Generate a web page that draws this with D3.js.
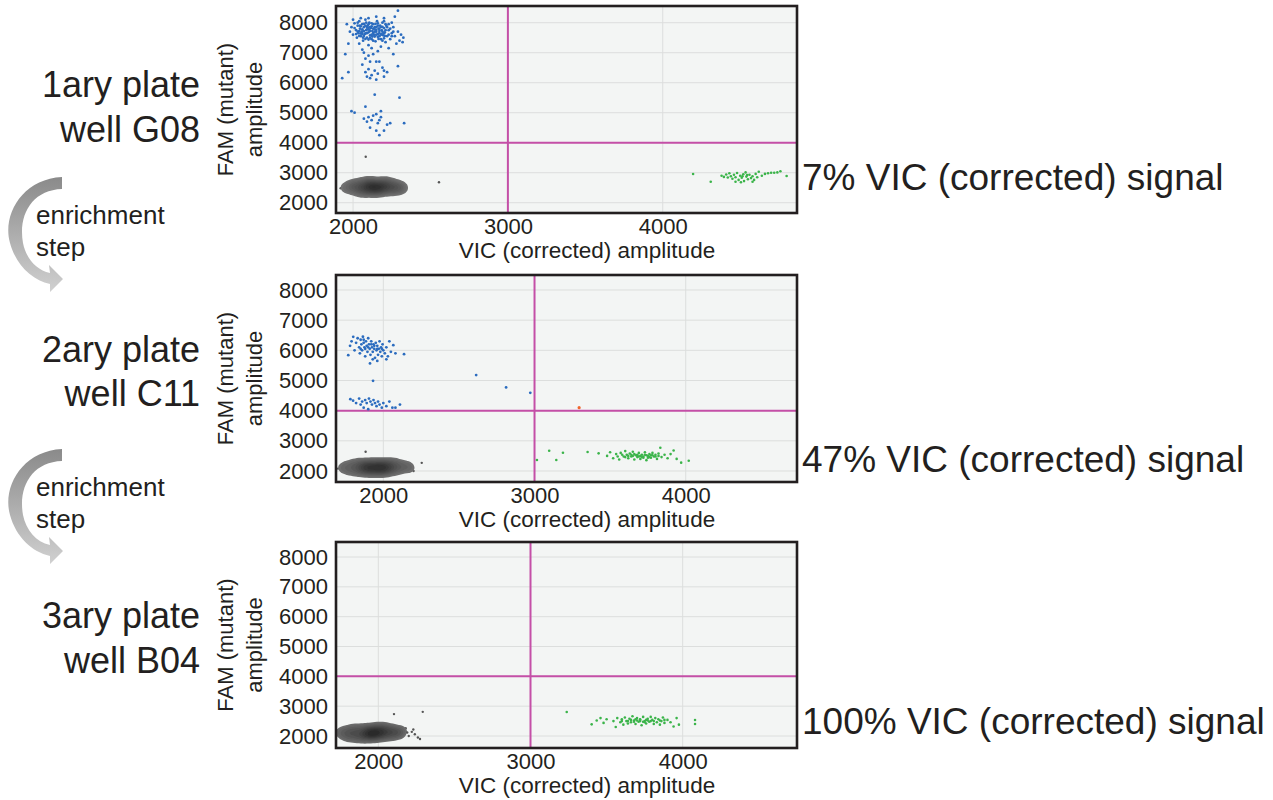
<!DOCTYPE html>
<html>
<head>
<meta charset="utf-8">
<script src="https://cdn.jsdelivr.net/npm/d3@7"></script>
<style>
  body { margin: 0; background: #fff; }
  svg { display: block; font-family: "Liberation Sans", Arial, Helvetica, sans-serif; }
  text { fill: #231f20; }
</style>
</head>
<body>
<svg width="1273" height="800"></svg>
<script>
// ---- data (VIC amplitude, FAM amplitude) ----
const blue1 = [[1960,7950],[1980,7700],[1990,7850],[2000,7600],[2010,7980],[2020,7750],[2025,7500],[2030,7900],[2035,7650],[2040,8050],[2045,7800],[2050,7550],[2055,7700],[2060,7950],[2065,7400],[2070,7850],[2075,7620],[2080,8100],[2085,7750],[2090,7500],[2095,7900],[2100,7680],[2105,8000],[2110,7580],[2115,7820],[2120,7450],[2125,7720],[2130,7950],[2135,7600],[2140,7850],[2145,7380],[2150,7700],[2155,8050],[2160,7530],[2165,7800],[2170,7650],[2175,7900],[2180,7450],[2185,7750],[2190,8000],[2195,7580],[2200,7820],[2205,7680],[2210,7350],[2215,7900],[2220,7550],[2230,7750],[2240,7450],[2250,7650],[2260,7850],[2270,7550],[2280,7300],[2290,7700],[2300,7400],[2310,7600],[2320,7350],[2325,7500],[2250,8000],[2270,8200],[2290,8400],[2200,8150],[2150,8200],[2100,8150],[2050,8150],[2000,8100],[1970,7300],[2040,7300],[2100,7250],[2180,7200],[2230,7150],[2060,7100],[2120,7150],
  [2070,7720],[2090,7780],[2110,7720],[2130,7660],[2150,7760],[2170,7720],[2190,7700],[2080,7640],[2100,7820],[2140,7780],[2160,7620],[2060,7780],[2120,7880],[2180,7860],[2140,7540],[2100,7440],[2200,7480],[2060,7620],[2040,7720],
  [2010,7820],[2020,7620],[2030,8000],[2040,7560],[2050,7880],[2060,7700],[2070,7560],[2080,7900],[2090,7650],[2100,7950],[2110,7850],[2120,7600],[2130,7800],[2140,7700],[2150,7600],[2160,7900],[2170,7800],[2180,7600],[2190,7860],[2200,7650],[2210,7750],[2220,7850],[2230,7600],[2240,7800],[2250,7550],[2260,7700],[2050,7640],[2070,7960],[2090,7860],[2110,7500],[2130,7400],[2150,7850],[2170,7550],[2190,7400],[2210,7950],[2230,7950],[2080,7460],[2120,7980],[2160,7980],[2200,8050],[2030,7700],[2045,7900],[2065,7500],[2085,8000],[2105,7760],[2125,7540],[2145,7960],[2165,7460],[2185,7620],[2205,7560],
  [2070,7000],[2100,6900],[2130,6950],[2160,7050],[2080,6800],[2150,6700],[2170,6700],[2110,6700],[2260,6950],[2290,6550],[2060,6600],[2100,6450],[2140,6400],[2190,6500],[2200,6400],[2220,6350],[2080,6350],[2120,6250],[2160,6300],[2110,6150],[2200,6200],[2150,6100],[2090,6200],
  [1950,6950],[1970,6350],[1930,6150],[2300,5500],[2140,5600],
  [1990,5050],[2010,5000],[2080,5200],[2100,4850],[2130,4900],[2150,4950],[2170,4750],[2120,4750],[2160,4650],[2090,4700],[2180,4850],[2180,5050],[2110,4500],[2150,4400],[2220,4600],[2240,4650],[2330,4650],[2170,4250],[2200,4400],[2070,4800]]
const green1 = [[4196,2957],[4310,2700],[4380,2900],[4395,2860],[4410,2940],[4430,2980],[4440,2880],[4450,2800],[4460,2930],[4470,2850],[4480,2990],[4490,2760],[4500,2900],[4505,2680],[4510,2830],[4520,2950],[4525,2720],[4535,3010],[4540,2870],[4550,2780],[4560,2930],[4570,2820],[4580,2880],[4590,2760],[4600,2960],[4610,2850],[4620,3030],[4640,2900],[4660,2960],[4680,2980],[4700,3000],[4720,3000],[4740,3010],[4760,3050],[4800,2890],[4470,2700],[4420,2840],[4545,2920],[4515,2880],[4580,2700]]
const gray1 = [[1920,2480],[1940,2560],[1960,2440],[1980,2620],[1990,2500],[2000,2380],[2010,2560],[2020,2680],[2030,2460],[2040,2600],[2050,2340],[2060,2520],[2070,2700],[2080,2420],[2090,2580],[2100,2480],[2110,2660],[2120,2360],[2130,2540],[2140,2460],[2150,2620],[2160,2300],[2170,2520],[2180,2720],[2190,2420],[2200,2580],[2210,2480],[2220,2660],[2230,2380],[2240,2540],[2250,2460],[2260,2620],[2270,2400],[2280,2540],[2290,2480],[2300,2580],[2310,2440],[2330,2520],[2340,2480],[2100,2780],[2230,2760],[2060,2300],[2150,2540],[2120,2500],[2170,2470],[2080,2520],[2200,2510],[2110,2560],[2140,2420],[2180,2600]]
const grayOut1 = [[2082,3530],[2555,2680]]

const blue2 = [[1768,5840],[1801,6447],[1780,6150],[1790,6300],[1810,6000],[1820,6250],[1830,6400],[1840,6100],[1845,5900],[1850,6350],[1855,6200],[1860,6000],[1865,6450],[1870,6250],[1875,6100],[1880,5800],[1885,6300],[1890,6150],[1895,5950],[1900,6400],[1905,6200],[1910,6050],[1915,5850],[1912,5566],[1920,6300],[1925,6100],[1930,5950],[1935,6200],[1940,6050],[1945,5750],[1950,6250],[1955,6000],[1960,6150],[1965,5850],[1970,6050],[1975,6300],[1980,5950],[1985,6100],[1990,5800],[1995,6200],[2000,6000],[2010,5900],[2020,6100],[2030,5800],[2040,6300],[2050,5950],[2066,6172],[2080,5900],[2137,5874],[1960,5650],[1930,5700],[2020,5700],[1880,6050],[1900,6100],[1920,6200],[1940,6150],[1870,6350],[1850,6050],[1960,6050],[1990,6050],
  [1782,4380],[1800,4330],[1820,4250],[1840,4400],[1850,4200],[1860,4300],[1870,4100],[1880,4350],[1890,4250],[1900,4050],[1905,4400],[1915,4300],[1925,4200],[1935,4350],[1945,4250],[1955,4150],[1965,4300],[1975,4200],[1990,4100],[2000,4250],[2020,4150],[2040,4300],[2060,4100],[2080,4100],[2110,4200],[1932,4990],
  [2614,5180],[2812,4770],[2972,4590]]
const orange2 = [[3295,4100]]
const green2 = [[3016,2364],[3097,2672],[3144,2364],[3188,2606],[3351,2628],[3424,2585],[3480,2500],[3500,2620],[3520,2420],[3540,2560],[3560,2380],[3570,2600],[3590,2480],[3600,2660],[3610,2540],[3620,2420],[3630,2580],[3640,2480],[3650,2640],[3660,2380],[3670,2520],[3680,2460],[3690,2600],[3700,2400],[3710,2540],[3720,2480],[3730,2620],[3740,2360],[3750,2500],[3760,2560],[3770,2440],[3780,2600],[3790,2480],[3800,2540],[3810,2400],[3820,2580],[3832,2772],[3840,2460],[3860,2540],[3880,2420],[3900,2560],[3920,2680],[3940,2400],[3970,2276],[4020,2341],[3660,2560],[3700,2500],[3720,2440],[3680,2540],[3740,2520],[3640,2540],[3760,2460],[3600,2460],[3780,2520],
  [3620,2500],[3680,2500],[3710,2460],[3730,2540],[3750,2440],[3770,2520],[3690,2480],[3650,2500],[3800,2480],[3820,2500],[3580,2540],[3550,2480]]
const gray2 = [[1700,2080],[1720,2200],[1740,2000],[1760,2120],[1770,2280],[1780,1940],[1800,2060],[1810,2200],[1820,2340],[1830,1900],[1840,2140],[1850,2020],[1860,2260],[1870,2100],[1880,1960],[1890,2200],[1900,2080],[1910,2320],[1920,1880],[1930,2160],[1940,2040],[1950,2240],[1960,1960],[1970,2120],[1980,2300],[1990,2040],[2000,2180],[2010,1900],[2020,2100],[2030,2260],[2040,2000],[2050,2160],[2060,2380],[2070,2060],[2080,2220],[2090,1960],[2100,2140],[2120,2280],[2130,2040],[2150,2180],[2170,2100],[2190,2200],[2200,2000],[1930,2090],[1960,2110],[1900,2140],[2000,2080],[1980,2140],[1880,2110],[2030,2130]]
const grayOut2 = [[2254,2270],[1883,2640]]

const green3 = [[3238,2803],[3402,2390],[3435,2520],[3460,2600],[3480,2440],[3500,2560],[3545,2500],[3560,2300],[3570,2600],[3590,2460],[3600,2560],[3610,2380],[3620,2620],[3630,2500],[3640,2420],[3650,2580],[3660,2460],[3670,2660],[3680,2520],[3690,2400],[3700,2600],[3710,2480],[3720,2560],[3730,2360],[3740,2640],[3750,2500],[3760,2420],[3770,2580],[3780,2480],[3790,2640],[3800,2540],[3810,2400],[3820,2600],[3830,2460],[3840,2560],[3850,2380],[3860,2500],[3870,2620],[3880,2440],[3900,2540],[3920,2460],[3940,2320],[3960,2600],[3975,2380],[4081,2535],[4081,2400],[3720,2500],[3760,2540],[3700,2520],[3740,2480],[3660,2540],[3790,2500],
  [3680,2480],[3720,2540],[3750,2460],[3770,2520],[3690,2560],[3810,2500],[3640,2500],[3600,2500],[3850,2520],[3880,2540]]
const gray3 = [[1727,2150],[1740,2050],[1760,2200],[1775,1950],[1790,2100],[1800,2250],[1810,1880],[1820,2020],[1830,2160],[1840,2320],[1850,1960],[1860,2080],[1870,2220],[1880,1850],[1890,2000],[1900,2140],[1910,2380],[1920,1920],[1930,2060],[1940,2200],[1950,1980],[1960,2120],[1970,2280],[1980,1900],[1990,2040],[2000,2180],[2010,2420],[2020,1960],[2030,2100],[2040,2240],[2050,2020],[2060,2160],[2070,2320],[2080,1940],[2090,2080],[2100,2220],[2120,2060],[2140,2180],[2160,2100],[2180,2260],[1960,2080],[1920,2130],[2000,2100],[1990,2150],[1940,2090],[2030,2160],[2110,2140],[2150,2040]]
const grayOut3 = [[2103,2735],[2292,2810],[2200,2000],[2220,2140],[2240,2060],[2260,1950],[2274,1900],[2230,2220],[2190,2120]]

const yTicks = [2000, 3000, 4000, 5000, 6000, 7000, 8000]
const xTicks = [2000, 3000, 4000]
const vicThreshold = 3000
const famThreshold = 4000
const plateLabels = [["1ary plate", "well G08"], ["2ary plate", "well C11"], ["3ary plate", "well B04"]]
const signalLabels = ["7% VIC (corrected) signal", "47% VIC (corrected) signal", "100% VIC (corrected) signal"]

const panels = [
  { top: 6,   bottom: 213, xd: [1890, 4867], yd: [1657, 8557], gray: gray1, out: grayOut1, blue: blue1, green: green1, orange: [] },
  { top: 275, bottom: 482, xd: [1687, 4736], yd: [1635, 8497], gray: gray2, out: grayOut2, blue: blue2, green: green2, orange: orange2 },
  { top: 542, bottom: 748, xd: [1722, 4751], yd: [1598, 8503], gray: gray3, out: grayOut3, blue: [],    green: green3, orange: [] }
]
const labelY = [[97, 142], [362, 406], [628, 673]]
const signalY = [190, 472, 734]

const svg = d3.select('svg')
const left = 336, right = 797
const defs = svg.append('defs')

const ag = defs.append('linearGradient').attr('id', 'arrowGrad').attr('gradientUnits', 'userSpaceOnUse')
  .attr('x1', 0).attr('y1', 177).attr('x2', 0).attr('y2', 292)
ag.append('stop').attr('offset', '0%').attr('stop-color', '#8a8a8a')
ag.append('stop').attr('offset', '100%').attr('stop-color', '#d0d0d0')

panels.forEach((p, i) => {
  const x = d3.scaleLinear().domain(p.xd).range([left, right])
  const y = d3.scaleLinear().domain(p.yd).range([p.bottom, p.top])
  const g = svg.append('g')

  defs.append('clipPath').attr('id', 'clip' + i)
    .append('rect').attr('x', left).attr('y', p.top).attr('width', right - left).attr('height', p.bottom - p.top)

  g.append('rect').attr('x', left).attr('y', p.top).attr('width', right - left).attr('height', p.bottom - p.top)
    .attr('fill', '#f3f5f4')

  // grid
  g.append('g').selectAll('line').data(yTicks).join('line')
    .attr('x1', left).attr('x2', right).attr('y1', d => y(d)).attr('y2', d => y(d))
    .attr('stroke', '#dcdedd').attr('stroke-width', 1)
  g.append('g').selectAll('line').data(xTicks).join('line')
    .attr('y1', p.top).attr('y2', p.bottom).attr('x1', d => x(d)).attr('x2', d => x(d))
    .attr('stroke', '#dcdedd').attr('stroke-width', 1)

  // thresholds
  g.append('line').attr('x1', left).attr('x2', right).attr('y1', y(famThreshold)).attr('y2', y(famThreshold))
    .attr('stroke', '#c44fa7').attr('stroke-width', 2)
  g.append('line').attr('y1', p.top).attr('y2', p.bottom).attr('x1', x(vicThreshold)).attr('x2', x(vicThreshold))
    .attr('stroke', '#c44fa7').attr('stroke-width', 2)

  const vis = g.append('g').attr('clip-path', `url(#clip${i})`)

  const dots = (data, color, r) => vis.append('g').selectAll('circle').data(data).join('circle')
    .attr('cx', d => x(d[0])).attr('cy', d => y(d[1])).attr('r', r).attr('fill', color)

  // dense negative droplet cloud: speckles underneath, density shading on top
  dots(p.gray, '#5c5c5c', 1.2)
  const contours = d3.contourDensity()
    .x(d => x(d[0])).y(d => y(d[1]))
    .size([1273, 800]).cellSize(2).bandwidth(4.5).thresholds(14)(p.gray)
  const maxV = d3.max(contours, c => c.value)
  const shade = d3.scaleLinear().domain([maxV * 0.2, maxV]).range(['#727272', '#2a2a2a']).clamp(true)
  vis.append('g').selectAll('path').data(contours.filter(c => c.value >= maxV * 0.2)).join('path')
    .attr('d', d3.geoPath()).attr('fill', d => shade(d.value))

  dots(p.out, '#555', 1.2)
  dots(p.blue, '#2b6cbf', 1.4)
  dots(p.green, '#3bb44a', 1.3)
  dots(p.orange, '#f0652d', 1.6)

  // axes
  const ya = g.append('g').attr('transform', `translate(${left},0)`)
    .call(d3.axisLeft(y).tickValues(yTicks).tickSize(0).tickPadding(8).tickFormat(d3.format('d')))
  const xa = g.append('g').attr('transform', `translate(0,${p.bottom})`)
    .call(d3.axisBottom(x).tickValues(xTicks).tickSize(0).tickPadding(5).tickFormat(d3.format('d')))
  ;[ya, xa].forEach(a => {
    a.select('.domain').remove()
    a.selectAll('text').attr('font-size', 22).attr('font-family', null).style('fill', '#231f20')
  })

  g.append('rect').attr('x', left).attr('y', p.top).attr('width', right - left).attr('height', p.bottom - p.top)
    .attr('fill', 'none').attr('stroke', '#231f20').attr('stroke-width', 2.6)

  // axis titles
  g.append('text').attr('x', 587).attr('y', p.bottom + 45)
    .attr('text-anchor', 'middle').attr('font-size', 22.5).text('VIC (corrected) amplitude')
  const cy = (p.top + p.bottom) / 2
  g.append('text').attr('transform', `translate(233,${cy}) rotate(-90)`)
    .attr('text-anchor', 'middle').attr('font-size', 22).text('FAM (mutant)')
  g.append('text').attr('transform', `translate(262,${cy}) rotate(-90)`)
    .attr('text-anchor', 'middle').attr('font-size', 22).text('amplitude')

  // plate labels
  plateLabels[i].forEach((t, k) => {
    g.append('text').attr('x', 200).attr('y', labelY[i][k]).attr('text-anchor', 'end')
      .attr('font-size', 36).text(t)
  })
  g.append('text').attr('x', 802).attr('y', signalY[i]).attr('font-size', 37).text(signalLabels[i])
})

// enrichment arrows between panels
;[0, 272].forEach(dy => {
  const a = svg.append('g').attr('transform', `translate(0,${dy})`)
  a.append('path')
    .attr('d', 'M62,177 C22,179 2,215 10,243 C16,265 32,280 50,284 L50,292 L63,279 L49,265 L50,273 C36,270 26,258 23,243 C18,215 32,190 62,189 Z')
    .attr('fill', 'url(#arrowGrad)')
  a.append('text').attr('x', 36).attr('y', 224).attr('font-size', 26).text('enrichment')
  a.append('text').attr('x', 36).attr('y', 256).attr('font-size', 26).text('step')
})
</script>
</body>
</html>
